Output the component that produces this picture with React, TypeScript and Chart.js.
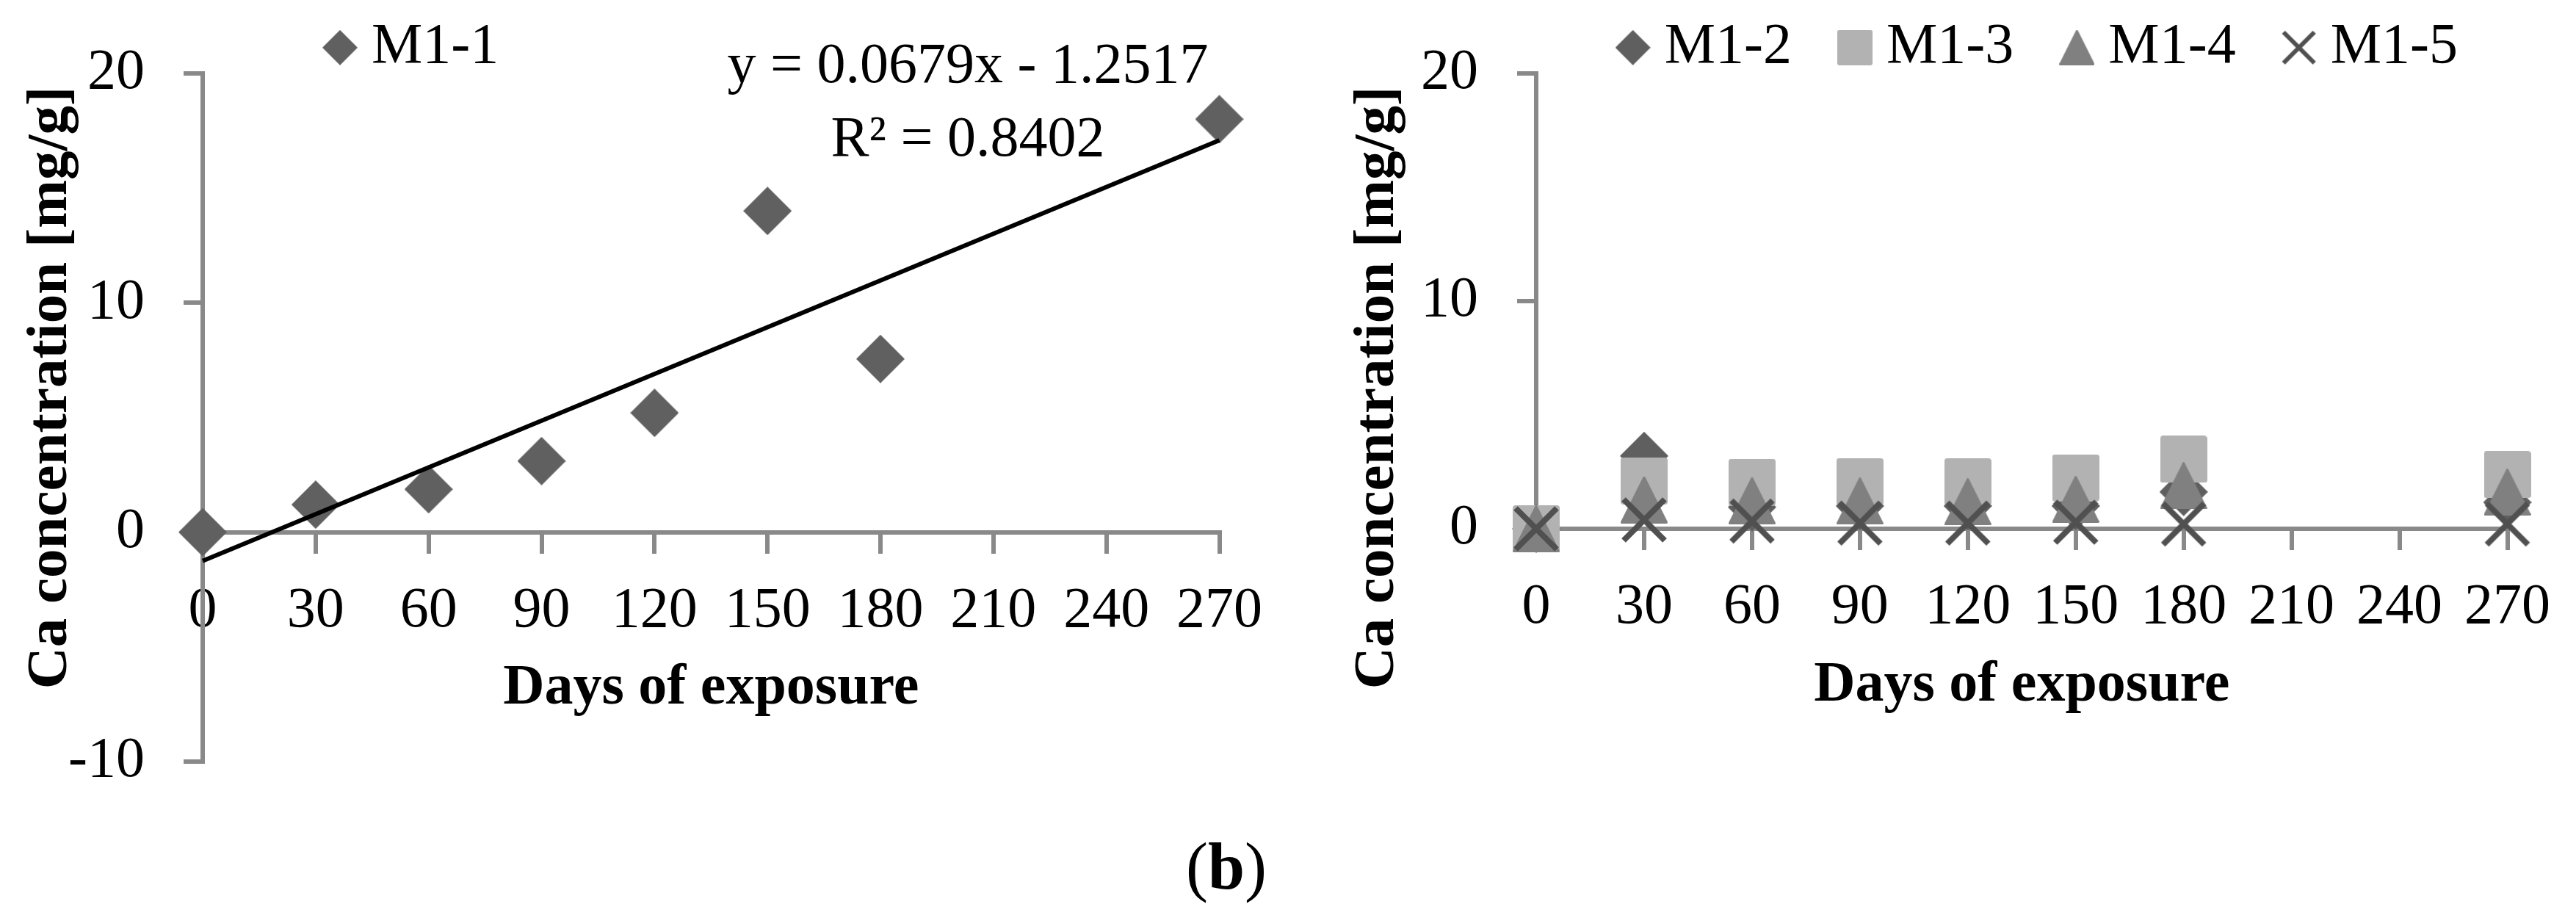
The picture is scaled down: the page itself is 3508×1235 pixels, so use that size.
import { useEffect, useRef } from 'react';
import { Chart, ChartConfiguration, registerables } from 'chart.js';

Chart.register(...registerables);

// sampling days (x) and measured Ca concentrations [mg/g]
const DAYS = [0, 30, 60, 90, 120, 150, 180, 270];
const M1_1 = [0, 1.2, 1.87, 3.1, 5.2, 14.0, 7.55, 18.0];
const M1_2 = [0, 3.2, 0.95, 1.0, 1.0, 1.0, 1.62, 1.16];
const M1_3 = [0, 2.1, 2.04, 2.07, 2.06, 2.24, 3.05, 2.38];
const M1_4 = [0, 1.27, 1.23, 1.22, 1.19, 1.29, 1.89, 1.61];
const M1_5 = [0, 0.39, 0.34, 0.25, 0.25, 0.29, 0.21, 0.21];

// linear trend of M1-1 as printed on the chart
const TREND_SLOPE = 0.0679;
const TREND_INTERCEPT = -1.2517;
const TREND_R2 = 0.8402;

const X_MIN = 0;
const X_MAX = 270;
const X_STEP = 30;

const FONT = "'Liberation Serif', 'Times New Roman', serif";
const AXIS_GRAY = '#898989';
const CW = 1754;
const CH = 1235;

type Shape = 'diamond' | 'square' | 'triangle' | 'cross';

function makeMarker(shape: Shape, size: number, color: string) {
  const c = document.createElement('canvas');
  c.width = size;
  c.height = size;
  const g = c.getContext('2d')!;
  const s = size;
  g.fillStyle = color;
  g.strokeStyle = color;
  g.beginPath();
  if (shape === 'diamond') {
    g.moveTo(s / 2, 0);
    g.lineTo(s, s / 2);
    g.lineTo(s / 2, s);
    g.lineTo(0, s / 2);
    g.closePath();
    g.fill();
  } else if (shape === 'square') {
    g.roundRect(0, 0, s, s, s * 0.06);
    g.fill();
  } else if (shape === 'triangle') {
    g.lineJoin = 'round';
    g.lineWidth = 3;
    g.moveTo(s / 2, 1.5);
    g.lineTo(s - 1.5, s - 1.5);
    g.lineTo(1.5, s - 1.5);
    g.closePath();
    g.fill();
    g.stroke();
  } else {
    const w = s * 0.125;
    const a = w * 0.5;
    g.lineWidth = w;
    g.moveTo(a, a);
    g.lineTo(s - a, s - a);
    g.moveTo(s - a, a);
    g.lineTo(a, s - a);
    g.stroke();
  }
  return c;
}

function points(ys: number[]) {
  return DAYS.map((d, i) => ({ x: d, y: ys[i] }));
}

function yTitle(x: number, y: number) {
  return {
    id: 'yTitle' + x,
    afterDraw(chart: Chart) {
      const ctx = chart.ctx;
      ctx.save();
      ctx.translate(x, y);
      ctx.rotate(-Math.PI / 2);
      ctx.font = `bold 79px ${FONT}`;
      ctx.fillStyle = '#000';
      ctx.textAlign = 'center';
      ctx.textBaseline = 'middle';
      ctx.fillText('Ca concentration [mg/g]', 0, 0);
      ctx.restore();
    },
  };
}

const leftNotes = {
  id: 'leftNotes',
  afterDraw(chart: Chart) {
    const ctx = chart.ctx;
    ctx.save();
    ctx.fillStyle = '#000';
    ctx.font = `78px ${FONT}`;
    ctx.textAlign = 'center';
    ctx.textBaseline = 'middle';
    ctx.fillText(`y = ${TREND_SLOPE}x - ${Math.abs(TREND_INTERCEPT)}`, 1318, 92);
    ctx.fillText(`R\u00B2 = ${TREND_R2}`, 1318, 192);

    // panel label (b)
    ctx.textAlign = 'left';
    ctx.textBaseline = 'alphabetic';
    let x = 1615;
    ctx.font = `90px ${FONT}`;
    ctx.fillText('(', x, 1210);
    x += ctx.measureText('(').width;
    ctx.font = `bold 90px ${FONT}`;
    ctx.fillText('b', x, 1210);
    x += ctx.measureText('b').width;
    ctx.font = `90px ${FONT}`;
    ctx.fillText(')', x, 1210);
    ctx.restore();
  },
};

function scales(yMin: number, yAxisWidth: number) {
  const tickFont = { family: FONT, size: 78 };
  const grid = {
    drawOnChartArea: false,
    drawTicks: true,
    tickLength: 26,
    lineWidth: 6,
    tickWidth: 6,
    color: AXIS_GRAY,
    tickColor: AXIS_GRAY,
  };
  const border = { display: true, color: AXIS_GRAY, width: 6 };
  return {
    x: {
      type: 'linear' as const,
      position: { y: 0 },
      min: X_MIN,
      max: X_MAX,
      ticks: {
        stepSize: X_STEP,
        font: tickFont,
        color: '#000',
        padding: 35,
        autoSkip: false,
        maxRotation: 0,
        minRotation: 0,
      },
      grid,
      border,
      title: {
        display: true,
        text: 'Days of exposure',
        color: '#000',
        font: { family: FONT, size: 78, weight: 'bold' as const },
        padding: { top: -23, bottom: 0 },
      },
    },
    y: {
      type: 'linear' as const,
      position: 'left' as const,
      min: yMin,
      max: 20,
      afterFit: (s: any) => {
        s.width = yAxisWidth;
      },
      ticks: { stepSize: 10, font: tickFont, color: '#000', padding: 53 },
      grid,
      border,
    },
  };
}

function legend(opts: { align: 'start' | 'end'; fullSize: boolean; padding: number; maxHeight: number; markers: HTMLCanvasElement[] }) {
  return {
    display: true,
    position: 'top' as const,
    align: opts.align,
    fullSize: opts.fullSize,
    maxHeight: opts.maxHeight,
    labels: {
      usePointStyle: true,
      boxWidth: 8,
      boxHeight: 8,
      padding: opts.padding,
      color: '#000',
      font: { family: FONT, size: 78 },
      filter: (item: any) => item.text !== '',
      sort: (a: any, b: any) => a.datasetIndex - b.datasetIndex,
      generateLabels: (chart: Chart) =>
        Chart.defaults.plugins.legend.labels
          .generateLabels(chart)
          .map((l: any) => ({ ...l, pointStyle: opts.markers[l.datasetIndex] })),
    },
  };
}

function leftConfig(): ChartConfiguration {
  const plotDiamond = makeMarker('diamond', 66, '#606060');
  const legendDiamond = makeMarker('diamond', 48, '#606060');
  return {
    type: 'scatter',
    data: {
      datasets: [
        {
          label: '',
          data: [
            { x: X_MIN, y: TREND_SLOPE * X_MIN + TREND_INTERCEPT },
            { x: X_MAX, y: TREND_SLOPE * X_MAX + TREND_INTERCEPT },
          ],
          showLine: true,
          borderColor: '#000',
          borderWidth: 6,
          pointRadius: 0,
          order: 0,
          clip: false,
        },
        {
          label: 'M1-1',
          data: points(M1_1),
          pointStyle: plotDiamond,
          pointRadius: 33,
          order: 1,
          clip: false,
        },
      ],
    },
    options: {
      animation: false,
      responsive: false,
      devicePixelRatio: 1,
      events: [],
      layout: { padding: { top: -170, left: 0, right: 61, bottom: 198 } },
      scales: scales(-10, 276),
      plugins: {
        legend: legend({ align: 'start', fullSize: false, padding: 183, maxHeight: 257, markers: [legendDiamond, legendDiamond] }),
        tooltip: { enabled: false },
      },
    },
    plugins: [yTitle(70, 528), leftNotes],
  } as ChartConfiguration;
}

function rightConfig(): ChartConfiguration {
  const series = [
    { label: 'M1-2', ys: M1_2, shape: 'diamond' as Shape, color: '#5f5f5f', size: 66 },
    { label: 'M1-3', ys: M1_3, shape: 'square' as Shape, color: '#b2b2b2', size: 64 },
    { label: 'M1-4', ys: M1_4, shape: 'triangle' as Shape, color: '#808080', size: 64 },
    { label: 'M1-5', ys: M1_5, shape: 'cross' as Shape, color: '#505050', size: 64 },
  ];
  const legendMarkers = series.map((s) => makeMarker(s.shape, 48, s.color));
  return {
    type: 'scatter',
    data: {
      datasets: series.map((s, i) => ({
        label: s.label,
        data: points(s.ys),
        pointStyle: makeMarker(s.shape, s.size, s.color),
        pointRadius: 33,
        order: series.length - i,
        clip: false,
      })),
    },
    options: {
      animation: false,
      responsive: false,
      devicePixelRatio: 1,
      events: [],
      layout: { padding: { top: -69, left: 0, right: 79, bottom: 515 } },
      scales: scales(0, 338),
      plugins: {
        legend: legend({ align: 'end', fullSize: true, padding: 82, maxHeight: 156, markers: legendMarkers }),
        tooltip: { enabled: false },
      },
    },
    plugins: [yTitle(123, 528)],
  } as ChartConfiguration;
}

function Panel({ build, left }: { build: () => ChartConfiguration; left: number }) {
  const canvasRef = useRef<HTMLCanvasElement>(null);

  useEffect(() => {
    if (!canvasRef.current) return;
    const chart = new Chart(canvasRef.current, build());
    return () => {
      chart.destroy();
    };
  }, [build]);

  return (
    <canvas
      ref={canvasRef}
      width={CW}
      height={CH}
      style={{ position: 'absolute', left, top: 0, width: CW, height: CH }}
    />
  );
}

export default function App() {
  return (
    <div style={{ position: 'absolute', left: 0, top: 0, width: CW * 2, height: CH, background: '#fff' }}>
      <Panel build={leftConfig} left={0} />
      <Panel build={rightConfig} left={CW} />
    </div>
  );
}
